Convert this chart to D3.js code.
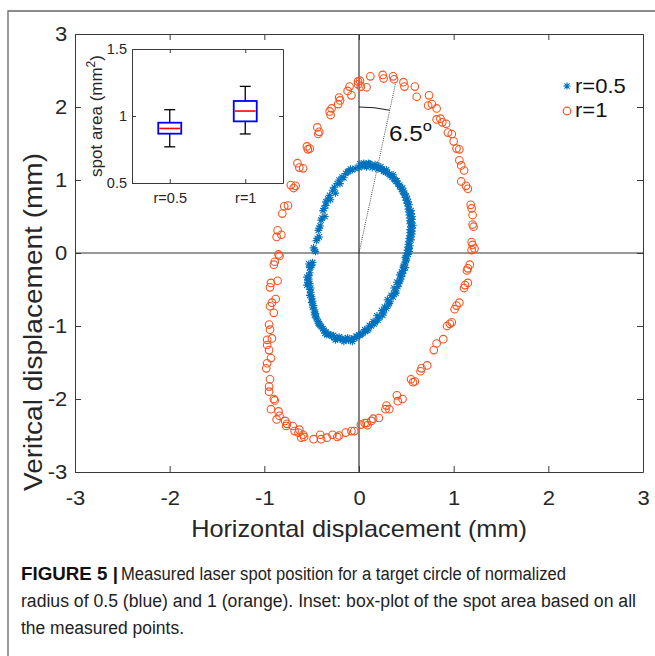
<!DOCTYPE html>
<html><head><meta charset="utf-8">
<script src="https://cdn.jsdelivr.net/npm/d3@7"></script>
<style>body{margin:0;background:#fff}svg{display:block}</style>
</head><body>
<svg id="c" width="655" height="656"></svg>
<script>
// ---------------- data ----------------
const xTicks = [-3,-2,-1,0,1,2,3];
const yTicks = [-3,-2,-1,0,1,2,3];
const seriesNames = ["r=0.5","r=1"];
const xTitle = "Horizontal displacement (mm)";
const yTitle = "Veritcal displacement (mm)";

// r=0.5 (blue asterisks) [x, y] in mm
const blueSpots = [
[-0.07,1.14],[-0.04,1.16],[0.00,1.17],[0.03,1.19],[0.06,1.21],[0.09,1.20],[0.12,1.21],[0.15,1.19],[0.18,1.18],[0.21,1.17],
[0.24,1.15],[0.27,1.13],[0.30,1.10],[0.32,1.08],[0.35,1.04],[0.37,1.02],[0.39,0.98],[0.41,0.95],[0.43,0.91],[0.45,0.87],
[0.46,0.84],[0.48,0.80],[0.49,0.76],[0.50,0.72],[0.51,0.68],[0.52,0.64],[0.52,0.60],[0.53,0.56],[0.53,0.52],[0.54,0.48],
[0.54,0.44],[0.54,0.40],[0.55,0.36],[0.54,0.32],[0.54,0.28],[0.54,0.24],[0.53,0.20],[0.53,0.16],[0.52,0.12],[0.52,0.08],
[0.51,0.04],[0.51,0.00],[0.50,-0.04],[0.50,-0.08],[0.49,-0.12],[0.48,-0.16],[0.47,-0.20],[0.47,-0.24],[0.46,-0.28],[0.45,-0.32],
[0.43,-0.38],[0.42,-0.42],[0.41,-0.46],[0.39,-0.52],[0.37,-0.56],[0.36,-0.60],[0.33,-0.66],[0.31,-0.71],[0.29,-0.76],[0.26,-0.82],
[0.22,-0.88],[0.20,-0.92],[0.16,-0.97],[0.13,-1.00],[0.10,-1.04],[0.07,-1.07],[0.04,-1.10],[0.01,-1.13],[-0.02,-1.15],[-0.05,-1.17],
[-0.08,-1.18],[-0.11,-1.19],[-0.14,-1.19],[-0.17,-1.19],[-0.20,-1.18],[-0.23,-1.17],[-0.26,-1.16],[-0.29,-1.14],[-0.32,-1.11],[-0.35,-1.08],
[-0.38,-1.04],[-0.41,-0.99],[-0.43,-0.94],[-0.45,-0.88],[-0.46,-0.83],[-0.47,-0.78],[-0.48,-0.72],[-0.49,-0.66],[-0.50,-0.60],[-0.51,-0.54],
[-0.51,-0.48],[-0.52,-0.42],[-0.53,-0.36],[-0.53,-0.31],[-0.52,-0.27],
[-0.52,-0.20],[-0.50,-0.17],[-0.53,-0.15],[-0.49,-0.13],
[-0.47,0.04],[-0.48,0.07],[-0.45,0.17],[-0.44,0.20],[-0.43,0.31],[-0.42,0.34],[-0.40,0.45],[-0.39,0.48],[-0.38,0.58],[-0.37,0.61],
[-0.35,0.70],[-0.33,0.74],[-0.31,0.79],[-0.28,0.86],[-0.26,0.90],[-0.23,0.95],[-0.21,1.00],[-0.18,1.04],[-0.14,1.09],[-0.11,1.12],
[0.01,1.22],[0.05,1.23],[0.08,1.18],[0.11,1.22],[0.14,1.17],[0.17,1.21],[0.20,1.15],[0.23,1.18],[0.26,1.12],[0.29,1.14],
[0.33,1.06],[0.36,1.07],[0.40,0.99],[0.43,0.93],[0.46,0.89],[0.48,0.82],[0.50,0.78],[0.52,0.70],[0.53,0.66],[0.55,0.58],
[0.56,0.50],[0.56,0.46],[0.57,0.38],[0.56,0.30],[0.56,0.26],[0.55,0.18],[0.54,0.10],[0.53,0.06],[0.52,-0.02],[0.50,-0.10],
[0.49,-0.06],[0.47,-0.18],[0.45,-0.26],[0.43,-0.30],[0.40,-0.40],[0.37,-0.48],[0.34,-0.58],[0.30,-0.64],[0.27,-0.74],[0.24,-0.79],
[0.19,-0.86],[0.15,-0.94],[0.11,-0.99],[0.06,-1.05],[0.02,-1.11],[-0.03,-1.14],[-0.07,-1.21],[-0.12,-1.16],[-0.16,-1.21],[-0.21,-1.15],
[-0.25,-1.19],[-0.30,-1.12],[-0.34,-1.12],[-0.37,-1.06],[-0.40,-1.01],[-0.43,-0.96],[-0.45,-0.90],[-0.47,-0.85],[-0.49,-0.74],[-0.50,-0.68],
[-0.52,-0.58],[-0.55,-0.44],[-0.54,-0.38],[-0.55,-0.33],[-0.51,-0.19],[-0.46,0.02],[-0.42,0.22],[-0.41,0.37],[-0.36,0.50],[-0.35,0.65],
[-0.30,0.73],[-0.25,0.82],[-0.20,0.95],[-0.16,1.03],[-0.12,1.11],[-0.09,1.15],
[0.04,1.20],[0.10,1.23],[0.19,1.20],[0.28,1.11],[0.38,1.00],[0.47,0.85],[0.51,0.74],[0.55,0.54],[0.55,0.42],[0.56,0.34],
[0.55,0.22],[0.53,0.02],[0.49,-0.20],[0.44,-0.36],[0.39,-0.55],[0.32,-0.69],[0.25,-0.85],[0.17,-0.95],[0.09,-1.06],[0.00,-1.12],
[-0.09,-1.20],[-0.18,-1.17],[-0.27,-1.13],[-0.36,-1.10],[-0.42,-0.97],[-0.47,-0.81],[-0.50,-0.63],[-0.52,-0.50],[-0.54,-0.40]
];

// r=1 (orange circles) [x, y] in mm
const orangeSpots = [
[-0.01,2.35],[-0.10,2.28],[-0.12,2.22],[-0.08,2.16],[-0.21,2.13],[-0.20,2.09],[-0.22,2.04],[-0.31,1.94],[-0.30,1.89],[-0.29,1.98],
[-0.44,1.72],[-0.42,1.66],[-0.43,1.63],[-0.55,1.46],[-0.52,1.43],[-0.54,1.42],[-0.65,1.23],[-0.63,1.17],[-0.59,1.16],[-0.72,0.93],
[-0.69,0.89],[-0.67,0.92],[-0.79,0.64],[-0.75,0.65],[-0.81,0.54],[-0.86,0.31],[-0.82,0.25],[-0.87,0.22],[-0.85,-0.02],
[0.01,2.36],[-0.01,2.31],[0.02,2.28],[0.08,2.27],[0.12,2.42],[0.25,2.44],[0.26,2.39],[0.36,2.42],[0.37,2.38],[0.47,2.34],
[0.48,2.28],[0.59,2.28],[0.61,2.14],[0.74,2.16],[0.73,2.02],[0.77,2.04],[0.82,1.98],[0.82,1.83],[0.86,1.84],[0.88,1.79],
[0.92,1.77],[0.94,1.65],[0.98,1.63],[1.00,1.53],[1.03,1.43],[1.06,1.42],[1.06,1.27],[1.08,1.20],[1.11,1.13],[1.08,0.98],
[1.13,0.92],[1.15,0.88],[1.18,0.66],[1.19,0.61],[1.20,0.52],[1.20,0.39],[1.21,0.36],[1.19,0.15],[1.20,0.11],[1.22,0.06],
[-0.84,-0.04],[-0.89,-0.12],[-0.90,-0.16],[-0.86,-0.38],[-0.93,-0.41],[-0.94,-0.47],[-0.88,-0.63],[-0.92,-0.68],[-0.94,-0.73],[-0.90,-0.82],
[-0.95,-0.98],[-0.94,-1.05],[-0.92,-1.17],[-0.97,-1.19],[-0.97,-1.26],[-0.95,-1.33],[-0.93,-1.44],[-0.97,-1.51],[-0.98,-1.58],[-0.94,-1.73],
[-0.95,-1.83],[-0.95,-1.90],[-0.90,-2.00],[-0.89,-2.02],[-0.93,-2.14],[-0.85,-2.17],[-0.87,-2.28],[-0.84,-2.23],[-0.78,-2.30],[-0.76,-2.34],
[-0.77,-2.37],[-0.70,-2.37],[-0.68,-2.44],[-0.63,-2.42],[-0.64,-2.46],[-0.59,-2.49],[-0.58,-2.52],[-0.61,-2.53],[-0.48,-2.55],[-0.41,-2.49],
[-0.40,-2.55],[-0.34,-2.53],[-0.28,-2.49],[-0.23,-2.52],[-0.21,-2.50],[-0.14,-2.46],[-0.08,-2.44],[0.02,-2.35],[0.06,-2.33],[0.09,-2.36],
[1.19,0.04],[1.17,-0.16],[1.15,-0.21],[1.14,-0.24],[1.15,-0.41],[1.12,-0.44],[1.11,-0.48],[1.06,-0.68],[1.03,-0.72],[1.01,-0.77],
[0.98,-0.95],[0.96,-0.97],[0.93,-1.00],[0.89,-1.18],[0.82,-1.24],[0.79,-1.33],[0.72,-1.54],[0.66,-1.58],[0.65,-1.62],[0.55,-1.73],
[0.59,-1.76],[0.57,-1.77],[0.40,-1.95],[0.46,-2.00],[0.41,-2.03],[0.29,-2.09],[0.32,-2.14],[0.28,-2.14],[0.21,-2.26],[0.15,-2.27],
[0.13,-2.30],[0.08,-2.33],[-0.05,-2.44]
];

// inset box plot (spot area, mm^2)
const insetCats = ["r=0.5","r=1"];
const insetTicks = [0.5,1,1.5];
const whiskerLow  = [0.77, 0.866];
const quart1      = [0.868, 0.96];
const medians     = [0.907, 1.037];
const quart3      = [0.95, 1.112];
const whiskerHigh = [1.047, 1.221];

// tilt annotation
const angleText = "6.5";
const tiltEnd = [0.39, 2.35];
const arcAtY = 2.0;

const captionBold = "FIGURE 5 |";
const captionLines = [
 "Measured laser spot position for a target circle of normalized",
 "radius of 0.5 (blue) and 1 (orange). Inset: box-plot of the spot area based on all",
 "the measured points."
];

// ---------------- drawing ----------------
const svg = d3.select("#c");
const FONT = "'Liberation Sans', Arial, Helvetica, sans-serif";
const SX = 1.1;
const BLUE = "#0072bd", ORANGE = "#f5531e", AX = "#3a3a3a";

// outer frame
svg.append("path").attr("d","M8,656 L8,11 L655,11").attr("fill","none").attr("stroke","#666").attr("stroke-width",1.3);

const L=75, R=643, T=34, B=472;
const x = d3.scaleLinear().domain([-3,3]).range([L,R]);
const y = d3.scaleLinear().domain([-3,3]).range([B,T]);

// zero lines
svg.append("line").attr("x1",x(0)).attr("x2",x(0)).attr("y1",T).attr("y2",B).attr("stroke","#333").attr("stroke-width",1.2);
svg.append("line").attr("x1",L).attr("x2",R).attr("y1",y(0)).attr("y2",y(0)).attr("stroke","#333").attr("stroke-width",1.2);

// tilt annotation
svg.append("line").attr("x1",x(0)).attr("y1",y(0)).attr("x2",x(tiltEnd[0])).attr("y2",y(tiltEnd[1]))
  .attr("stroke","#333").attr("stroke-width",0.9).attr("stroke-dasharray","1,1.2");
{
  const rad = y(0)-y(arcAtY);
  const ang = Math.atan2(x(tiltEnd[0])-x(0), y(0)-y(tiltEnd[1]));
  const arc = d3.arc().innerRadius(rad).outerRadius(rad).startAngle(0).endAngle(ang);
  svg.append("path").attr("d",arc()).attr("transform",`translate(${x(0)},${y(0)})`)
    .attr("fill","none").attr("stroke","#222").attr("stroke-width",1.2);
}
const at = svg.append("text").attr("transform",`translate(389,141) scale(${SX},1)`)
  .attr("font-family",FONT).attr("font-size",22).attr("fill","#111");
at.append("tspan").text(angleText);
at.append("tspan").attr("dy",-10).attr("font-size",15).text("o");

// data
const ast = s => { const a=s*0.72; return `M${-s},0L${s},0M0,${-s}L0,${s}M${-a},${-a}L${a},${a}M${-a},${a}L${a},${-a}`; };
svg.append("g").selectAll("path").data(blueSpots).join("path")
  .attr("d",ast(3.8)).attr("transform",d=>`translate(${x(d[0])},${y(d[1])})`)
  .attr("stroke",BLUE).attr("stroke-width",1.1).attr("fill","none");
svg.append("g").selectAll("circle").data(orangeSpots).join("circle")
  .attr("cx",d=>x(d[0])).attr("cy",d=>y(d[1])).attr("r",3.8)
  .attr("fill","none").attr("stroke",ORANGE).attr("stroke-width",1.1);

// axes
const gx = svg.append("g").attr("transform",`translate(0,${B})`)
  .call(d3.axisBottom(x).tickValues(xTicks).tickSizeInner(-6).tickSizeOuter(0).tickPadding(19).tickFormat(d3.format("d")));
svg.append("g").attr("transform",`translate(0,${T})`)
  .call(d3.axisTop(x).tickValues(xTicks).tickSizeInner(-6).tickSizeOuter(0).tickFormat(""));
const gy = svg.append("g").attr("transform",`translate(${L},0)`)
  .call(d3.axisLeft(y).tickValues(yTicks).tickSizeInner(-6).tickSizeOuter(0).tickPadding(7).tickFormat(d3.format("d")));
svg.append("g").attr("transform",`translate(${R},0)`)
  .call(d3.axisRight(y).tickValues(yTicks).tickSizeInner(-6).tickSizeOuter(0).tickFormat(""));
svg.selectAll("g.tick text").attr("font-family",FONT).attr("font-size",20).attr("fill","#262626")
  .text(function(){ return this.textContent.replace("−","-"); });
gx.selectAll("text").attr("transform",`scale(${SX},1)`);
gy.selectAll("text").attr("transform",`scale(${SX},1)`);
svg.selectAll(".domain").attr("stroke",AX);
svg.selectAll("g.tick line").attr("stroke",AX);

// titles
svg.append("text").attr("transform",`translate(${(L+R)/2},537) scale(${SX},1)`).attr("text-anchor","middle")
  .attr("font-family",FONT).attr("font-size",23).attr("fill","#262626").text(xTitle);
svg.append("text").attr("transform",`translate(42,322) rotate(-90)`).attr("text-anchor","middle")
  .attr("font-family",FONT).attr("font-size",26).attr("fill","#262626")
  .attr("textLength",338).attr("lengthAdjust","spacingAndGlyphs").text(yTitle);

// legend
svg.append("path").attr("d",ast(3.6)).attr("transform","translate(567,86)").attr("stroke",BLUE).attr("stroke-width",1.1).attr("fill","none");
svg.append("circle").attr("cx",567).attr("cy",111).attr("r",3.8).attr("fill","none").attr("stroke",ORANGE).attr("stroke-width",1.2);
svg.append("text").attr("transform",`translate(575,93) scale(${SX},1)`).attr("font-family",FONT).attr("font-size",20).attr("fill","#111").text(seriesNames[0]);
svg.append("text").attr("transform",`translate(575,117) scale(${SX},1)`).attr("font-family",FONT).attr("font-size",20).attr("fill","#111").text(seriesNames[1]);

// inset
const iL=132, iR=283, iT=49, iB=183;
svg.append("rect").attr("x",iL).attr("y",iT).attr("width",iR-iL).attr("height",iB-iT).attr("fill","#fff");
const ix = d3.scaleLinear().domain([0.5,2.5]).range([iL,iR]);
const iy = d3.scaleLinear().domain([0.5,1.5]).range([iB,iT]);
const ib = svg.append("g").attr("transform",`translate(0,${iB})`)
  .call(d3.axisBottom(ix).tickValues([1,2]).tickSizeInner(-4).tickSizeOuter(0).tickPadding(10).tickFormat((d,i)=>insetCats[i]));
svg.append("g").attr("transform",`translate(0,${iT})`)
  .call(d3.axisTop(ix).tickValues([1,2]).tickSizeInner(-4).tickSizeOuter(0).tickFormat(""));
const il = svg.append("g").attr("transform",`translate(${iL},0)`)
  .call(d3.axisLeft(iy).tickValues(insetTicks).tickSizeInner(-4).tickSizeOuter(0).tickPadding(5).tickFormat(d=>String(d)));
svg.append("g").attr("transform",`translate(${iR},0)`)
  .call(d3.axisRight(iy).tickValues(insetTicks).tickSizeInner(-4).tickSizeOuter(0).tickFormat(""));
[ib,il].forEach(g=>g.selectAll("text").attr("font-family",FONT).attr("font-size",14.5).attr("fill","#262626"));
svg.selectAll(".domain").attr("stroke",AX);
svg.selectAll("g.tick line").attr("stroke",AX);

const yl = svg.append("text").attr("transform",`translate(102,116) rotate(-90)`).attr("text-anchor","middle")
  .attr("font-family",FONT).attr("font-size",17).attr("fill","#262626");
yl.append("tspan").text("spot area (mm");
yl.append("tspan").attr("dy",-7).attr("font-size",12).text("2");
yl.append("tspan").attr("dy",7).text(")");

const bw = 23, cw = 11;
insetCats.forEach((c,i)=>{
  const cx = ix(i+1);
  const g = svg.append("g");
  g.append("line").attr("x1",cx).attr("x2",cx).attr("y1",iy(whiskerHigh[i])).attr("y2",iy(quart3[i])).attr("stroke","#000").attr("stroke-width",1.3);
  g.append("line").attr("x1",cx).attr("x2",cx).attr("y1",iy(quart1[i])).attr("y2",iy(whiskerLow[i])).attr("stroke","#000").attr("stroke-width",1.3);
  g.append("line").attr("x1",cx-cw/2).attr("x2",cx+cw/2).attr("y1",iy(whiskerHigh[i])).attr("y2",iy(whiskerHigh[i])).attr("stroke","#000").attr("stroke-width",1.3);
  g.append("line").attr("x1",cx-cw/2).attr("x2",cx+cw/2).attr("y1",iy(whiskerLow[i])).attr("y2",iy(whiskerLow[i])).attr("stroke","#000").attr("stroke-width",1.3);
  g.append("rect").attr("x",cx-bw/2).attr("y",iy(quart3[i])).attr("width",bw).attr("height",iy(quart1[i])-iy(quart3[i]))
    .attr("fill","none").attr("stroke","#0000ff").attr("stroke-width",1.8);
  g.append("line").attr("x1",cx-bw/2+1).attr("x2",cx+bw/2-1).attr("y1",iy(medians[i])).attr("y2",iy(medians[i])).attr("stroke","#ff0000").attr("stroke-width",1.6);
});

// caption
const CF = "'Liberation Sans Narrow', 'Liberation Sans', Arial, sans-serif";
svg.append("text").attr("x",21).attr("y",580).attr("font-family",CF).attr("font-weight","bold").attr("font-size",18)
  .attr("fill","#111").attr("textLength",97).attr("lengthAdjust","spacingAndGlyphs").text(captionBold);
const capW = [[121,566],[21,636],[21,184]];
captionLines.forEach((t,i)=>{
  svg.append("text").attr("x",capW[i][0]).attr("y",580+27*i).attr("font-family",CF).attr("font-size",18)
    .attr("fill","#222").attr("textLength",capW[i][1]-capW[i][0]).attr("lengthAdjust","spacingAndGlyphs").text(t);
});
</script>
</body></html>
